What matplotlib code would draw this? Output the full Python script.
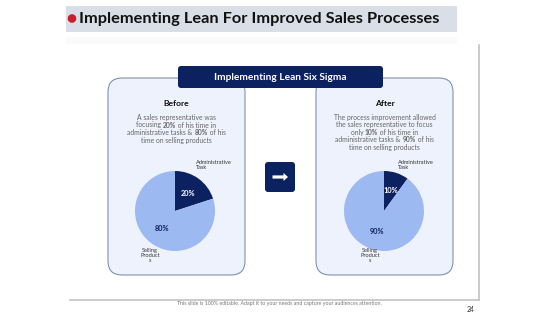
import matplotlib
matplotlib.use("Agg")
import matplotlib.pyplot as plt
import numpy as np
from matplotlib.patches import FancyBboxPatch, Circle, Rectangle, FancyArrow

# ========== ДАННЫЕ ==========
TITLE = "Implementing Lean For Improved Sales Processes"
HEADER = "Implementing Lean Six Sigma"
panels = ["Before", "After"]
admin_share = [20, 10]
selling_share = [80, 90]
slice_labels = ["Administrative\nTask", "Selling\nProduct\ns"]
# **...** = жирный фрагмент
descriptions = [
    ["A sales representative was",
     "focusing **20%** of his time in",
     "administrative tasks & **80%** of his",
     "time on selling products"],
    ["The process improvement allowed",
     "the sales representative to focus",
     "only **10%** of his time in",
     "administrative tasks & **90%** of his",
     "time on selling products"],
]
FOOTER = "This slide is 100% editable. Adapt it to your needs and capture your audiences attention."
PAGE = "24"

# ========== СТИЛЬ ==========
NAVY = "#0C2160"
LIGHT = "#9DB9F1"
PANEL_FILL = "#EEF2FC"
PANEL_EDGE = "#8190B3"
plt.rcParams["font.family"] = ["Lato", "DejaVu Sans"]

W, H = 560, 315
fig = plt.figure(figsize=(W / 100, H / 100), dpi=100)
bg = fig.add_axes([0, 0, 1, 1])
bg.set_xlim(0, W)
bg.set_ylim(H, 0)
bg.axis("off")
renderer = fig.canvas.get_renderer()


def rich_line(cx, y, line, size, color):
    # строка из обычных и жирных кусков, центрированная по cx
    parts = line.split("**")
    texts = []
    for k, part in enumerate(parts):
        if not part:
            continue
        t = bg.text(0, y, part, fontsize=size, color=color,
                    fontweight="bold" if k % 2 else "normal",
                    ha="left", va="center")
        texts.append(t)
    widths = [t.get_window_extent(renderer).width for t in texts]
    x = cx - sum(widths) / 2
    for t, w in zip(texts, widths):
        t.set_x(x)
        x += w


# заголовок
bg.add_patch(Rectangle((66, 6), 391, 26, color="#D9DEE7", lw=0))
bg.add_patch(Rectangle((66, 37), 391, 7, color="#FAFAFB", lw=0))
bg.add_patch(Circle((72, 18.5), 3.6, color="#C8202A"))
bg.text(79, 19.5, TITLE, fontsize=11.8, fontweight="bold", color="#111111",
        va="center", ha="left")

# рамка слайда
bg.plot([479, 479], [45, 300], color="#BDBDBD", lw=1.1)
bg.plot([70, 479], [300, 300], color="#BDBDBD", lw=1.1)

# панели
panel_x = [108, 316]
for i, name in enumerate(panels):
    x0 = panel_x[i]
    bg.add_patch(FancyBboxPatch((x0 + 14, 78 + 14), 137 - 28, 197 - 28,
                                boxstyle="round,pad=14", fc=PANEL_FILL,
                                ec=PANEL_EDGE, lw=0.8))
    cx = x0 + 68.5
    bg.text(cx, 104, name, fontsize=6.1, fontweight="bold", color="#111111",
            ha="center", va="center")
    for j, line in enumerate(descriptions[i]):
        rich_line(cx, 117.5 + j * 7.5, line, 4.9, "#666666")

# шапка
bg.add_patch(FancyBboxPatch((181, 69), 199, 16, boxstyle="round,pad=3",
                            fc=NAVY, ec="none"))
bg.text(280, 77, HEADER, fontsize=7.3, fontweight="bold", color="white",
        ha="center", va="center")

# стрелка
bg.add_patch(FancyBboxPatch((268, 165), 24, 24, boxstyle="round,pad=3",
                            fc=NAVY, ec="none"))
bg.add_patch(FancyArrow(272.5, 177, 11, 0, width=3.2, head_width=8,
                        head_length=4.5, fc="white", ec="none"))

# подвал
bg.text(279, 303.5, FOOTER, fontsize=3.75, color="#777777", ha="center",
        va="center")
bg.text(471, 309, PAGE, fontsize=5, color="#333333", ha="center",
        va="center")

# ========== ДИАГРАММЫ ==========
centers = [(175, 211), (384, 211)]
R = 40
admin_lbl_x = [0.52, 0.35]
sell_lbl_x = [-0.62, -0.35]
for i in range(2):
    cx, cy = centers[i]
    ax = fig.add_axes([(cx - R) / W, 1 - (cy + R) / H, 2 * R / W, 2 * R / H])
    wedges, texts = ax.pie([admin_share[i], selling_share[i]],
                           colors=[NAVY, LIGHT], startangle=90,
                           counterclock=False, radius=1,
                           wedgeprops=dict(lw=0))
    ax.set_xlim(-1, 1)
    ax.set_ylim(-1, 1)
    # подписи процентов
    for w, val, col in zip(wedges, [admin_share[i], selling_share[i]],
                           ["white", NAVY]):
        ang = np.deg2rad((w.theta1 + w.theta2) / 2)
        ax.text(0.55 * np.cos(ang), 0.55 * np.sin(ang), f"{val}%",
                fontsize=5.3, fontweight="bold", color=col,
                ha="center", va="center")
    ax.text(admin_lbl_x[i], 1.02, slice_labels[0], fontsize=4.1,
            color="#333333", ha="left", va="bottom", linespacing=1.05)
    ax.text(sell_lbl_x[i], -0.92, slice_labels[1], fontsize=4.1,
            color="#333333", ha="center", va="top", linespacing=1.05,
            multialignment="center")

fig.savefig("out.png", dpi=100)
